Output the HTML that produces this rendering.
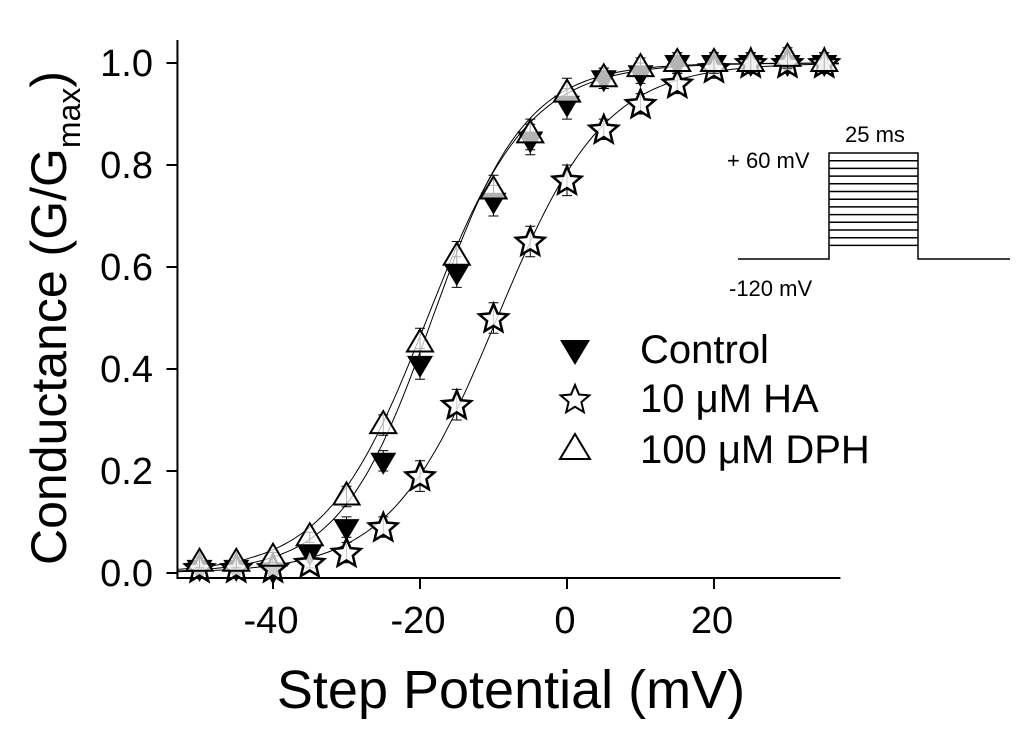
<!DOCTYPE html>
<html><head><meta charset="utf-8"><style>
body{margin:0;background:#fff;}
svg{display:block;font-family:"Liberation Sans",Arial,sans-serif;}
</style></head><body>
<svg id="chart" width="1030" height="730" viewBox="0 0 1030 730">
<g id="curves"></g>
<g id="marks"></g>
<g id="axes"></g>
<text x="511" y="708" font-size="54" text-anchor="middle">Step Potential (mV)</text>
<text transform="translate(66,318) rotate(-90)" font-size="50" text-anchor="middle">Conductance (G/G<tspan font-size="32" dy="14">max</tspan><tspan dy="-14">)</tspan></text>
<g>
 <path d="M560,340 L590,340 L575,365 Z" fill="#000"/>
 <text x="640" y="363" font-size="40">Control</text>
 <text x="640" y="412" font-size="40">10 μM HA</text>
 <text x="640" y="463" font-size="40">100 μM DPH</text>
 <g id="legstar"></g>
 <path d="M575,434 L590,459 L560,459 Z" fill="#fff" stroke="#000" stroke-width="2"/>
</g>
<g fill="none" stroke="#000" stroke-width="1.5">
 <path id="pulse" d="M738,259 L829,259 L829,153 L918,153 L918,259 L1010,259"/>
</g>
<g font-size="22">
 <text x="845" y="142">25 ms</text>
 <text x="727" y="168">+ 60 mV</text>
 <text x="729" y="296">-120 mV</text>
</g>
</svg>
<script>
const voltages=[-50,-45,-40,-35,-30,-25,-20,-15,-10,-5,0,5,10,15,20,25,30,35];
const controlG=[0.01,0.01,0.005,0.04,0.09,0.22,0.41,0.59,0.73,0.85,0.92,0.97,0.98,1.0,1.0,1.0,1.0,1.0];
const haG=[0.01,0.01,0.01,0.02,0.04,0.09,0.19,0.33,0.50,0.65,0.77,0.87,0.92,0.96,0.99,1.0,1.0,1.0];
const dphG=[0.02,0.02,0.03,0.07,0.15,0.29,0.45,0.62,0.75,0.86,0.94,0.97,0.99,1.0,1.0,1.0,1.01,1.0];
const errBar=[0.01,0.01,0.01,0.01,0.02,0.02,0.03,0.03,0.03,0.03,0.03,0.02,0.02,0.02,0.02,0.02,0.02,0.02];
const fitVhalf=[-18.3,-9.5,-19.0];
const fitSlope=[6.3,7.3,6.9];
const xTicks=[-40,-20,0,20];
const yTicks=[0.0,0.2,0.4,0.6,0.8,1.0];
const yTickLabels=["0.0","0.2","0.4","0.6","0.8","1.0"];
const NS="http://www.w3.org/2000/svg";
const X=v=>567+(v)*7.35;
const Y=g=>573-g*510;
function mk(tag,parent){const e=document.createElementNS(NS,tag);parent.appendChild(e);return e;}
const axes=document.getElementById('axes'),curves=document.getElementById('curves'),marks=document.getElementById('marks');
const ax=mk('path',axes);


ax.setAttribute('d',`M${X(-53)},${Y(1.045)} L${X(-53)},578 L${X(37.2)},578`);
ax.setAttribute('fill','none');ax.setAttribute('stroke','#000');ax.setAttribute('stroke-width','2');
xTicks.forEach(t=>{
 const l=mk('line',axes);
 
 
 l.setAttribute('x1',X(t));l.setAttribute('x2',X(t));l.setAttribute('y1',578);l.setAttribute('y2',589);l.setAttribute('stroke','#000');l.setAttribute('stroke-width','2');
 const tx=mk('text',axes);
 
 
 tx.setAttribute('x',X(t)-2);tx.setAttribute('y',633);tx.setAttribute('font-size','38');tx.setAttribute('text-anchor','middle');tx.textContent=t;
});
yTicks.forEach((t,i)=>{
 const l=mk('line',axes);
 
 
 l.setAttribute('x1',X(-53)-11);l.setAttribute('x2',X(-53));l.setAttribute('y1',Y(t));l.setAttribute('y2',Y(t));l.setAttribute('stroke','#000');l.setAttribute('stroke-width','2');
 const tx=mk('text',axes);
 
 
 tx.setAttribute('x',153);tx.setAttribute('y',Y(t)+13);tx.setAttribute('font-size','38');tx.setAttribute('text-anchor','end');tx.textContent=yTickLabels[i];
});
fitVhalf.forEach((vh,i)=>{
 let d='';
 for(let v=-53;v<=37;v+=0.5){const g=1/(1+Math.exp((vh-v)/fitSlope[i]));d+=(d?'L':'M')+X(v).toFixed(1)+','+Y(g).toFixed(1);}
 const p=mk('path',curves);
 
 
 p.setAttribute('d',d);p.setAttribute('fill','none');p.setAttribute('stroke','#000');p.setAttribute('stroke-width','1');
});
function starPath(cx,cy,R){const r=R*0.45;let d='';for(let k=0;k<10;k++){const a=-Math.PI/2+k*Math.PI/5;const rr=k%2?r:R;d+=(k?'L':'M')+(cx+rr*Math.cos(a)).toFixed(1)+','+(cy+rr*Math.sin(a)).toFixed(1);}return d+'Z';}
function err(parent,x,g,e){
 const p=mk('path',parent);
 
 
 p.setAttribute('d',`M${x},${Y(g-e)} L${x},${Y(g+e)} M${x-5},${Y(g+e)} L${x+5},${Y(g+e)} M${x-5},${Y(g-e)} L${x+5},${Y(g-e)}`);
 p.setAttribute('stroke','#000');p.setAttribute('stroke-width','1');p.setAttribute('fill','none');
}
voltages.forEach((v,i)=>{
 const x=X(v);
 err(marks,x,controlG[i],errBar[i]);
 const c=mk('path',marks);
 
 
 const y=Y(controlG[i]);
 c.setAttribute('d',`M${x-13},${y-8} L${x+13},${y-8} L${x},${y+14} Z`);c.setAttribute('fill','#000');
});
voltages.forEach((v,i)=>{
 const x=X(v);
 err(marks,x,haG[i],errBar[i]);
 const s=mk('path',marks);
 
 
 s.setAttribute('d',starPath(x,Y(haG[i])+1,15));s.setAttribute('fill','#fff');s.setAttribute('stroke','#000');s.setAttribute('stroke-width','2.5');s.setAttribute('fill-opacity','0.8');
});
voltages.forEach((v,i)=>{
 const x=X(v);
 err(marks,x,dphG[i],errBar[i]);
 const t=mk('path',marks);
 
 
 const y=Y(dphG[i]);
 t.setAttribute('d',`M${x},${y-14} L${x+13},${y+8} L${x-13},${y+8} Z`);t.setAttribute('fill','#fff');t.setAttribute('fill-opacity','0.7');t.setAttribute('stroke','#000');t.setAttribute('stroke-width','2');
});
const ls=mk('path',document.getElementById('legstar'));


ls.setAttribute('d',starPath(575,400,15));ls.setAttribute('fill','#fff');ls.setAttribute('stroke','#000');ls.setAttribute('stroke-width','2');
const pulse=document.getElementById('pulse').parentNode;
for(let k=1;k<=12;k++){
 const l=mk('line',pulse);
 
 
 const y=153+k*7.7;
 l.setAttribute('x1',829);l.setAttribute('x2',918);l.setAttribute('y1',y);l.setAttribute('y2',y);
}
</script>
</body></html>
